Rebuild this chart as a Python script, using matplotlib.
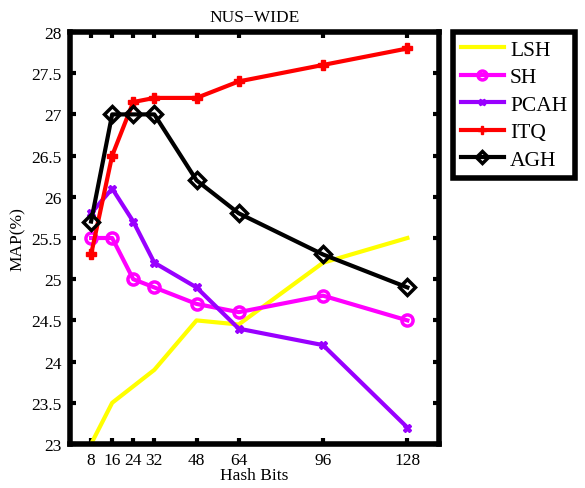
import matplotlib.pyplot as plt
import numpy as np

plt.rcParams['font.family'] = ['Liberation Serif', 'DejaVu Serif']

bits = [8, 16, 24, 32, 48, 64, 96, 128]
lsh = [23.0, 23.5, 23.7, 23.9, 24.5, 24.45, 25.2, 25.5]
sh = [25.5, 25.5, 25.0, 24.9, 24.7, 24.6, 24.8, 24.5]
pcah = [25.8, 26.1, 25.7, 25.2, 24.9, 24.4, 24.2, 23.2]
itq = [25.3, 26.5, 27.15, 27.2, 27.2, 27.4, 27.6, 27.8]
agh = [25.7, 27.0, 27.0, 27.0, 26.2, 25.8, 25.3, 24.9]
yticks = [23, 23.5, 24, 24.5, 25, 25.5, 26, 26.5, 27, 27.5, 28]

fig = plt.figure(figsize=(5.85, 4.89), dpi=100)
ax = fig.add_axes([70/585, 44/489, 369/585, 412/489])

lw = 3
ax.plot(bits, lsh, color='#ffff00', lw=lw, label='LSH')
ax.plot(bits, sh, color='#ff00ff', lw=lw, marker='o', ms=8, mfc='none', mew=2.5, label='SH')
ax.plot(bits, pcah, color='#9900ff', lw=lw, marker='X', ms=6, mew=1, label='PCAH')
ax.plot(bits, itq, color='#ff0000', lw=lw, marker='P', ms=7, mew=1, label='ITQ')
ax.plot(bits, agh, color='black', lw=lw, marker='D', ms=8, mfc='none', mew=2.5, label='AGH')

ax.set_xlim(0, 140)
ax.set_ylim(23, 28)
ax.set_xticks(bits)
ax.set_xticklabels([str(b) for b in bits])
ax.set_yticks(yticks)
ax.set_yticklabels(['%g' % t for t in yticks])
ax.tick_params(direction='in', length=4, width=3, top=True, right=True, labelsize=12.5, pad=6)
for s in ax.spines.values():
    s.set_linewidth(4)

ax.set_title('NUS\u2212WIDE', fontsize=12.5, pad=8)
ax.set_xlabel('Hash Bits', fontsize=12.5, labelpad=-1)
ax.set_ylabel('MAP(%)', fontsize=12.5)

leg = ax.legend(loc='upper left', bbox_to_anchor=(1.038, 1.0), fontsize=15.5, frameon=True,
                fancybox=False, edgecolor='black', framealpha=1, handlelength=2.0,
                handletextpad=0.3, borderpad=0.35, labelspacing=0.35, borderaxespad=0,
                markerscale=0.8)
leg.get_frame().set_linewidth(4)

fig.savefig('out.png', dpi=100)
